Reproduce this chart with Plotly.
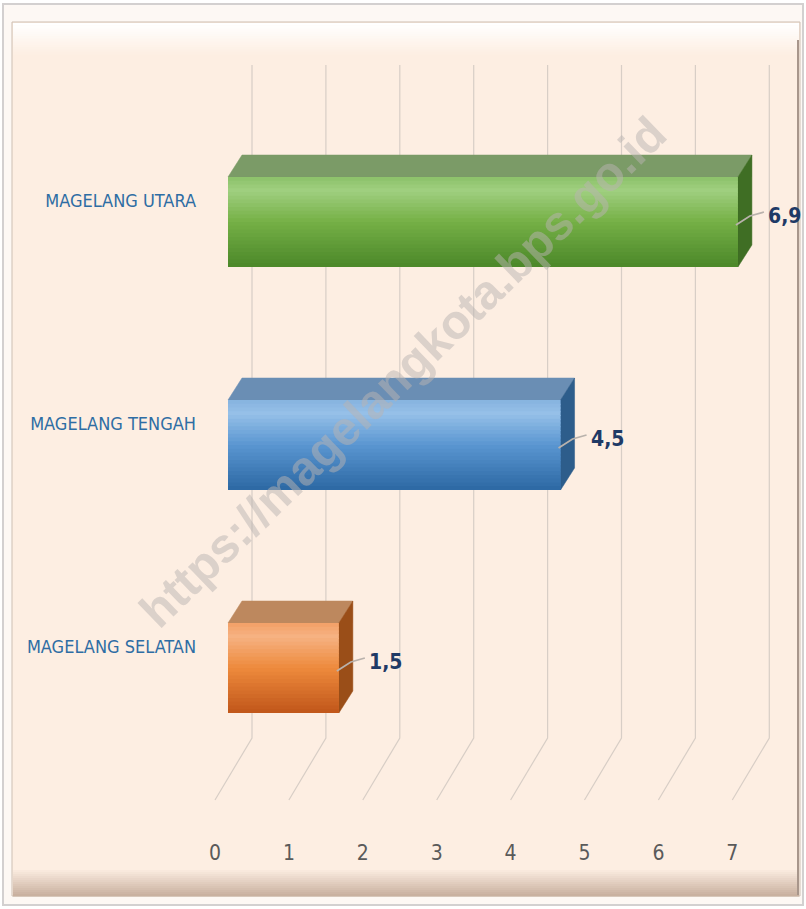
import plotly.graph_objects as go

# ---------------- data ----------------
categories = ["MAGELANG SELATAN", "MAGELANG TENGAH", "MAGELANG UTARA"]
values = [1.5, 4.5, 6.9]
value_labels = ["1,5", "4,5", "6,9"]
x_ticks = [0, 1, 2, 3, 4, 5, 6, 7]
watermark = "https://magelangkota.bps.go.id"

# ---------------- styling ----------------
front_stops = [  # (top, highlight, mid, bottom)
    ["#F2A066", "#F6B283", "#EE8A3C", "#C0561A"],
    ["#86B3DF", "#96C0E8", "#5A96D1", "#2C68A3"],
    ["#8BC169", "#A0CF80", "#75B046", "#4B8729"],
]
top_colors = ["#BD885E", "#6A8EB4", "#7B9B67"]
side_colors = ["#9A4E18", "#2D5D8B", "#3F6E24"]

W, H = 806, 909
ML, MR, MT, MB = 205, 16, 30, 79
SX = 73.9      # px per unit on value axis
X0 = 228       # px of value 0 (bar front face)
SY = 223       # px per category
Y0 = 668       # px of first category centre
BAR_HALF = 45  # px
DEPTH_X, DEPTH_Y = 14, 22
PW, PH = W - ML - MR, H - MT - MB

COND = "DejaVu Sans Condensed, Liberation Sans Narrow, sans-serif"


def px2x(px):
    return (px - X0) / SX


def py2y(py):
    return (Y0 - py) / SY


def fx(px):
    return (px - ML) / PW


def fy(py):
    return (H - MB - py) / PH


def hex2rgb(h):
    h = h.lstrip("#")
    return tuple(int(h[i:i + 2], 16) for i in (0, 2, 4))


def lerp(c1, c2, t):
    a, b = hex2rgb(c1), hex2rgb(c2)
    return "rgb(%d,%d,%d)" % tuple(round(a[i] + (b[i] - a[i]) * t) for i in range(3))


def grad(stops, t):
    pos = [0.0, 0.15, 0.5, 1.0]
    for i in range(3):
        if pos[i] <= t <= pos[i + 1]:
            return lerp(stops[i], stops[i + 1], (t - pos[i]) / (pos[i + 1] - pos[i]))
    return stops[-1]


shapes = []

# ---- frame (paper coords) ----
shapes.append(dict(type="rect", xref="paper", yref="paper", layer="below",
                   x0=fx(3), x1=fx(803), y0=fy(4), y1=fy(905),
                   fillcolor="#FDF8F4", line=dict(color="#D3D0D0", width=2)))
shapes.append(dict(type="rect", xref="paper", yref="paper", layer="below",
                   x0=fx(12), x1=fx(800), y0=fy(22), y1=fy(896),
                   fillcolor="#FDEEE2", line=dict(color="#CDBFB3", width=1)))
NB = 14
for i in range(NB):
    t = i / NB
    shapes.append(dict(type="rect", xref="paper", yref="paper", layer="below",
                       x0=fx(13), x1=fx(799), y0=fy(23 + i * 2.2), y1=fy(23 + (i + 1) * 2.2 + 0.6),
                       fillcolor=lerp("#FFFFFF", "#FDEEE2", t), line=dict(width=0)))
for i in range(NB):
    t = i / NB
    shapes.append(dict(type="rect", xref="paper", yref="paper", layer="below",
                       x0=fx(13), x1=fx(799), y0=fy(868 + i * 2), y1=fy(868 + (i + 1) * 2 + 0.6),
                       fillcolor=lerp("#FDEEE2", "#C5AC9B", t), line=dict(width=0)))
shapes.append(dict(type="line", xref="paper", yref="paper", layer="below",
                   x0=fx(798), x1=fx(798), y0=fy(40), y1=fy(895),
                   line=dict(color="#A8968B", width=2)))

# ---- 3D gridlines (back wall + floor) ----
for k in x_ticks:
    xb = k + 24 / SX
    xf = k - 13 / SX
    shapes.append(dict(type="path", xref="x", yref="y", layer="below",
                       path=f"M {xb},{py2y(65)} L {xb},{py2y(738)} L {xf},{py2y(800)}",
                       line=dict(color="#D8CEC6", width=1.2)))

# ---- bars: 3D faces ----
NS = 24
for i, (cat, v) in enumerate(zip(categories, values)):
    yc = i
    top = yc + BAR_HALF / SY
    bot = yc - BAR_HALF / SY
    ddx = DEPTH_X / SX
    ddy = DEPTH_Y / SY
    # top face
    shapes.append(dict(type="path", xref="x", yref="y", layer="above",
                       path=f"M 0,{top} L {ddx},{top + ddy} L {v + ddx},{top + ddy} L {v},{top} Z",
                       fillcolor=top_colors[i], line=dict(color=top_colors[i], width=0.5)))
    # side face
    shapes.append(dict(type="path", xref="x", yref="y", layer="above",
                       path=f"M {v},{top} L {v + ddx},{top + ddy} L {v + ddx},{bot + ddy} L {v},{bot} Z",
                       fillcolor=side_colors[i], line=dict(color=side_colors[i], width=0.5)))
    # front face gradient
    h = (top - bot) / NS
    for s in range(NS):
        t = (s + 0.5) / NS
        y1 = max(bot, top - (s + 1) * h - 1.0 / SY)
        shapes.append(dict(type="rect", xref="x", yref="y", layer="above",
                           x0=0, x1=v, y0=top - s * h, y1=y1,
                           fillcolor=grad(front_stops[i], t), line=dict(width=0)))
    # leader line
    pts = [(-2, 3), (12, -6), (26, -10)]
    path = "M " + " L ".join(f"{v + p[0] / SX},{yc - p[1] / SY}" for p in pts)
    shapes.append(dict(type="path", xref="x", yref="y", layer="above", path=path,
                       line=dict(color="#B9B2AC", width=1.8)))

fig = go.Figure()
fig.add_trace(go.Bar(
    y=list(range(len(categories))), x=values, orientation="h",
    width=2 * BAR_HALF / SY,
    marker=dict(color=[s[2] for s in front_stops], line=dict(width=0)),
    hoverinfo="x+y", showlegend=False,
))

annotations = []
for i, (v, lab) in enumerate(zip(values, value_labels)):
    annotations.append(dict(x=v, y=i, xref="x", yref="y", text=lab, showarrow=False,
                            xanchor="left", yanchor="middle", xshift=28, yshift=6,
                            font=dict(family=COND, size=21, color="#1F3A66", weight="bold")))
annotations.append(dict(x=fx(402), y=fy(372), xref="paper", yref="paper", text=watermark,
                        showarrow=False, textangle=-44,
                        font=dict(family="Liberation Sans, Arial, sans-serif", size=48,
                                  color="rgba(185,180,178,0.5)", weight="bold")))

fig.update_layout(
    template="none",
    width=W, height=H, autosize=False,
    margin=dict(l=ML, r=MR, t=MT, b=MB, pad=0),
    paper_bgcolor="#FFFFFF", plot_bgcolor="rgba(0,0,0,0)",
    shapes=shapes, annotations=annotations,
    bargap=0, showlegend=False,
    xaxis=dict(range=[px2x(ML), px2x(W - MR)], tickvals=x_ticks, ticktext=[str(t) for t in x_ticks],
               showgrid=False, zeroline=False, showline=False, ticks="", automargin=False,
               ticklabelshift=-13, ticklabelstandoff=8,
               tickfont=dict(family=COND, size=21, color="#5A5A5A")),
    yaxis=dict(range=[py2y(H - MB), py2y(MT)], tickvals=list(range(len(categories))), ticktext=categories,
               showgrid=False, zeroline=False, showline=False, ticks="", automargin=False,
               ticklabelshift=-21, ticklabelstandoff=8,
               tickfont=dict(family=COND, size=18, color="#2E6DA4")),
)

fig.write_html("out.html", config={"displayModeBar": False},
               post_script="document.body.style.margin='0px';document.body.style.overflow='hidden';")
